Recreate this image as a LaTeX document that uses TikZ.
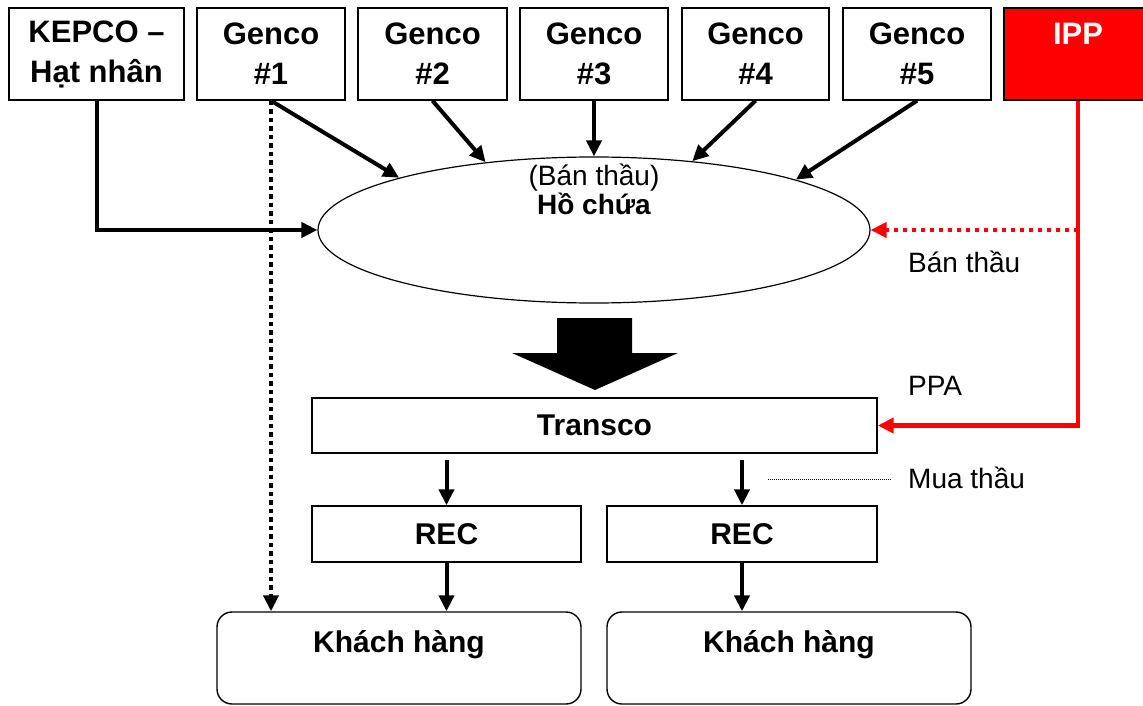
\documentclass[tikz,border=0pt]{standalone}
\usepackage{fontspec}
\setmainfont{Liberation Sans}
\usetikzlibrary{arrows.meta,shapes.geometric,calc}
\definecolor{ippred}{RGB}{255,0,0}
\begin{document}
\begin{tikzpicture}[x=1pt,y=-1pt,
  box/.style={draw, line width=1.4pt, inner sep=0pt, align=center,
    font=\fontsize{31}{40}\selectfont\bfseries},
  lowbox/.style={draw, line width=1.4pt, inner sep=0pt, align=center,
    font=\fontsize{30}{34}\selectfont\bfseries},
  custbox/.style={lowbox, rounded corners=15pt},
  lbl/.style={inner sep=0pt, anchor=base west, font=\fontsize{28}{32}\selectfont},
  tip/.style={-{Triangle[length=16pt,width=15pt]}},
  arr/.style={line width=4pt, tip},
  dotarr/.style={line width=4.5pt, dash pattern=on 4.5pt off 4pt, tip},
  redarr/.style={line width=4.5pt, draw=ippred, -{Triangle[length=16pt,width=15pt]}},
  reddot/.style={line width=4.5pt, draw=ippred, dash pattern=on 4.5pt off 4.5pt, -{Triangle[length=16pt,width=15pt]}},
  leader/.style={line width=0.8pt, dash pattern=on 1pt off 1pt}
]
\useasboundingbox (0,0) rectangle (1143,706);

% top row
\node[box, minimum width=175pt, minimum height=92pt] (kepco) at (96.5,54) {KEPCO --\\Hạt nhân};
\node[box, minimum width=148pt, minimum height=92pt] (g1) at (271,54) {Genco\\\#1};
\node[box, minimum width=149pt, minimum height=92pt] (g2) at (432.5,54) {Genco\\\#2};
\node[box, minimum width=148pt, minimum height=92pt] (g3) at (594,54) {Genco\\\#3};
\node[box, minimum width=147pt, minimum height=92pt] (g4) at (755.5,54) {Genco\\\#4};
\node[box, minimum width=148pt, minimum height=92pt] (g5) at (917,54) {Genco\\\#5};
\node[box, fill=ippred, text=white, minimum width=148pt, minimum height=92pt] (ipp) at (1078,54) {IPP\\~};

% pool ellipse
\node[draw, ellipse, line width=1.2pt, inner sep=0pt, minimum width=552pt, minimum height=146pt] (ell) at (594,230) {};
\node[inner sep=0pt, anchor=base, align=center, font=\fontsize{28}{26}\selectfont] (pooltxt) at (594,214) {(Bán thầu)\\\textbf{Hồ chứa}};

% big block arrow
\fill (557,318) -- (632,318) -- (632,353) -- (678,353) -- (595,390) -- (512,353) -- (557,353) -- cycle;

% lower boxes
\node[lowbox, minimum width=565pt, minimum height=55pt] (tr) at (594.5,425.5) {Transco};
\node[lowbox, minimum width=269pt, minimum height=56pt] (rec1) at (446.5,534) {REC};
\node[lowbox, minimum width=270pt, minimum height=56pt] (rec2) at (742,534) {REC};
\node[custbox, minimum width=364pt, minimum height=92pt] (kh1) at (399,658) {Khách hàng\\~};
\node[custbox, minimum width=364pt, minimum height=92pt] (kh2) at (789,658) {Khách hàng\\~};

% labels
\node[lbl] (lbt) at (908,272) {Bán thầu};
\node[lbl] (lppa) at (908,395) {PPA};
\node[lbl] (lmua) at (908,488) {Mua thầu};
\coordinate (muastart) at (768,479);
\draw[leader] (muastart) -- (muastart -| 892,0);

% arrows into pool
\draw[arr] (kepco.south) |- (ell.west);
\draw[arr] (g1.south) -- (ell.165);
\draw[arr] (g2.south) -- (ell.148);
\draw[arr] (g3.south) -- (ell.north);
\draw[arr] (g4.south) -- (ell.35);
\draw[arr] (g5.south) -- (ell.14);

% direct dotted arrow
\draw[dotarr] (g1.south) -- (g1.south |- kh1.north);

% IPP
\draw[redarr] (ipp.south) |- (tr.east);
\draw[reddot] (ipp.south |- ell.east) -- (ell.east);

% transco to REC
\draw[arr] ($(tr.south -| rec1.north)+(0,6)$) -- (rec1.north);
\draw[arr] ($(tr.south -| rec2.north)+(0,6)$) -- (rec2.north);
\draw[arr] (rec1.south) -- (rec1.south |- kh1.north);
\draw[arr] (rec2.south) -- (rec2.south |- kh2.north);
\end{tikzpicture}
\end{document}
